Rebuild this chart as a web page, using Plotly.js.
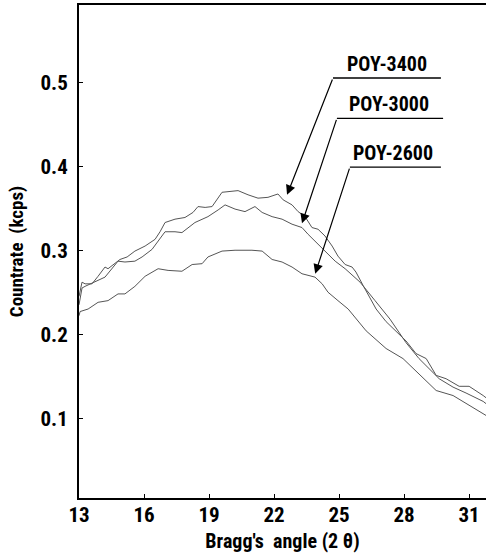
<!DOCTYPE html>
<html>
<head>
<meta charset="utf-8">
<script src="https://cdn.plot.ly/plotly-3.0.1.min.js"></script>
<style>html,body{margin:0;padding:0;background:#fff;}#chart{width:486px;height:557px;}</style>
</head>
<body>
<div id="chart"></div>
<script>
// Bragg's angle (2θ) and countrate (kcps)
const x3400 = [13.00,13.14,13.28,13.60,13.88,14.20,14.34,14.66,14.89,15.22,15.58,16.05,16.51,16.74,16.97,17.43,17.89,18.26,18.49,18.82,19.14,19.60,20.06,20.34,20.80,21.26,21.72,22.18,22.42,22.83,23.11,23.43,23.75,24.03,24.35,24.68,24.95,25.28,25.60,25.78,26.11,26.38,26.71,27.17,27.49,28.09,28.55,29.02,29.48,29.94,30.54,31.00,31.65,31.80];
const y3400 = [0.245,0.262,0.260,0.260,0.269,0.280,0.278,0.284,0.289,0.292,0.299,0.305,0.313,0.322,0.333,0.337,0.339,0.345,0.352,0.351,0.352,0.369,0.370,0.371,0.366,0.362,0.363,0.367,0.360,0.354,0.346,0.340,0.327,0.325,0.317,0.305,0.293,0.283,0.280,0.274,0.258,0.246,0.230,0.215,0.207,0.192,0.177,0.171,0.151,0.147,0.138,0.138,0.127,0.124];

const x3000 = [13.00,13.14,13.28,13.74,14.20,14.80,15.12,15.58,15.91,16.37,16.97,17.43,17.75,18.35,18.95,19.42,19.74,20.20,20.66,21.12,21.45,21.91,22.37,22.83,23.29,23.57,23.89,24.35,24.82,25.28,25.97,26.66,27.35,28.09,28.69,29.62,30.26,30.86,31.65,31.80];
const y3000 = [0.235,0.255,0.257,0.263,0.268,0.287,0.286,0.287,0.292,0.301,0.322,0.322,0.321,0.333,0.340,0.348,0.354,0.349,0.346,0.352,0.345,0.340,0.337,0.331,0.327,0.319,0.311,0.299,0.287,0.278,0.262,0.240,0.218,0.190,0.171,0.147,0.137,0.130,0.120,0.117];

const x2600 = [13.00,13.05,13.42,13.88,14.34,14.80,15.12,15.58,16.05,16.65,17.11,17.75,18.22,18.68,18.95,19.60,20.20,20.98,21.45,21.91,22.37,22.83,23.29,23.89,24.22,24.49,24.95,25.42,26.25,27.17,27.95,28.55,29.02,29.48,30.26,30.86,31.65,31.80];
const y2600 = [0.222,0.227,0.230,0.238,0.240,0.248,0.248,0.257,0.269,0.278,0.276,0.275,0.283,0.284,0.292,0.299,0.300,0.300,0.299,0.289,0.286,0.280,0.272,0.268,0.260,0.250,0.240,0.230,0.204,0.183,0.171,0.156,0.144,0.133,0.127,0.118,0.106,0.103];

const seriesNames = ["POY-3400","POY-3000","POY-2600"];
const xTicks = [13,16,19,22,25,28,31];
const yTicks = [0.1,0.2,0.3,0.4,0.5];

const FONT = "'Roboto Condensed', 'DejaVu Sans Condensed', Arial, sans-serif";
const lineStyle = {color:'#555', width:1};

const traces = [
  {x:x3400, y:y3400, name:seriesNames[0], mode:'lines', line:lineStyle},
  {x:x3000, y:y3000, name:seriesNames[1], mode:'lines', line:lineStyle},
  {x:x2600, y:y2600, name:seriesNames[2], mode:'lines', line:lineStyle}
];

// label placement: [text x, text y, underline x0, underline x1, underline y, arrow head x, arrow head y]
const labelPos = [
  [27.2, 0.522, 24.72, 29.7, 0.505, 22.6, 0.366],
  [27.3, 0.474, 24.9, 29.8, 0.457, 23.29, 0.332],
  [27.5, 0.416, 25.5, 29.7, 0.399, 23.9, 0.272]
];

const shapes = [];
const annotations = [];
labelPos.forEach((p,i)=>{
  shapes.push({type:'line', xref:'x', yref:'y', x0:p[2], x1:p[3], y0:p[4], y1:p[4], line:{color:'#000', width:1.4}});
  annotations.push({x:p[0], y:p[1], xref:'x', yref:'y', text:seriesNames[i], showarrow:false,
    font:{family:FONT, size:20, color:'#000', weight:'bold'}});
  annotations.push({x:p[5], y:p[6], xref:'x', yref:'y', ax:p[2], ay:p[4], axref:'x', ayref:'y',
    text:'', showarrow:true, arrowhead:2, arrowsize:1.6, arrowwidth:1.2, arrowcolor:'#000', standoff:0});
});

const layout = {
  width:486, height:557,
  margin:{l:79, r:0, t:5, b:59, pad:0},
  paper_bgcolor:'#fff', plot_bgcolor:'#fff',
  showlegend:false,
  font:{family:FONT, color:'#000'},
  xaxis:{
    range:[13,31.78], tickvals:xTicks, ticktext:xTicks.map(String),
    ticks:'inside', ticklen:4, tickwidth:1, tickcolor:'#000',
    showline:true, linecolor:'#000', linewidth:2, mirror:true,
    showgrid:false, zeroline:false, ticklabelstandoff:-3,
    tickfont:{family:FONT, size:21, color:'#000', weight:'bold'},
    title:{text:"Bragg's  angle (2 θ)", font:{family:FONT, size:20, color:'#000', weight:'bold'}, standoff:8}
  },
  yaxis:{
    range:[0.005,0.592], tickvals:yTicks, ticktext:yTicks.map(v=>v.toFixed(1)),
    ticks:'inside', ticklen:4, tickwidth:1, tickcolor:'#000',
    showline:true, linecolor:'#000', linewidth:2, mirror:false,
    showgrid:false, zeroline:false, ticklabelstandoff:5,
    tickfont:{family:FONT, size:21, color:'#000', weight:'bold'},
    title:{text:"Countrate  (kcps)", font:{family:FONT, size:19, color:'#000', weight:'bold'}, standoff:12}
  },
  shapes:shapes,
  annotations:annotations
};

Plotly.newPlot('chart', traces, layout, {displayModeBar:false, staticPlot:true});
</script>
</body>
</html>
